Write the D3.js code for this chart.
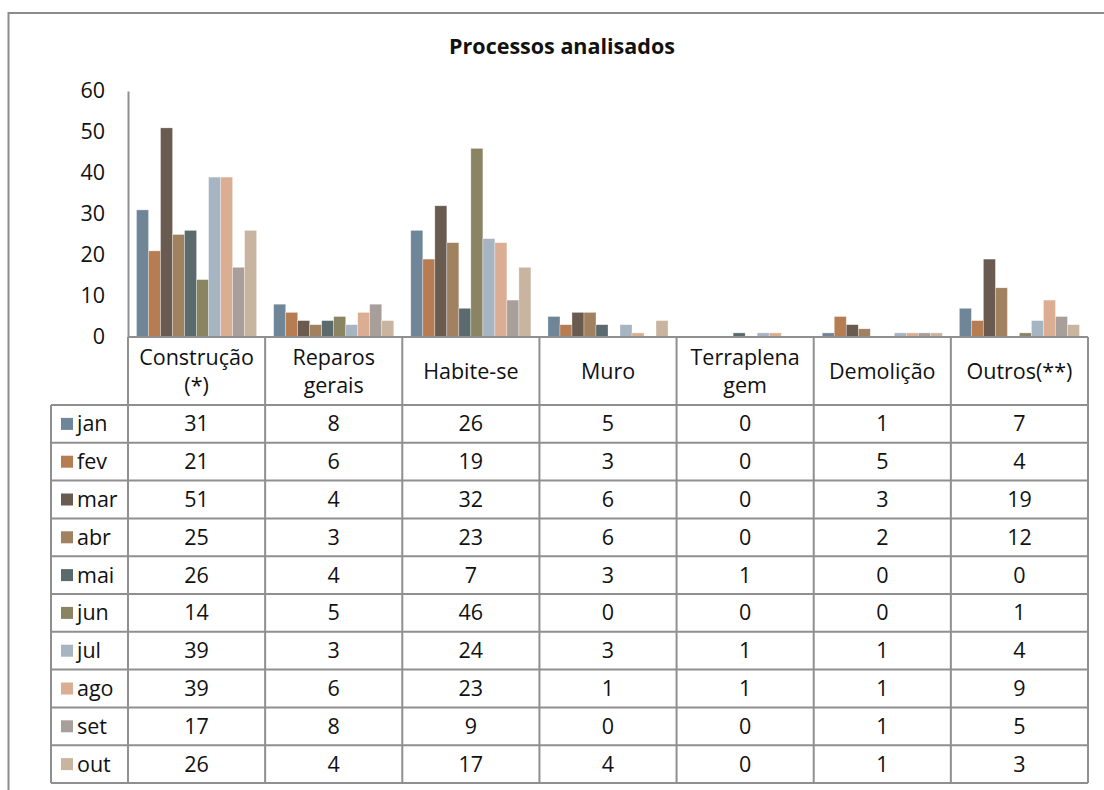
<!DOCTYPE html>
<html lang="pt">
	<head>
		<meta charset="utf-8">
		<title>Processos analisados</title>
		<script src="https://d3js.org/d3.v7.min.js"></script>
		<style type="text/css">
			body { margin: 0; background: #fff; }
			text { font-family: "Open Sans", "Noto Sans", sans-serif; fill: #111; }
		</style>
	</head>
	<body>
		<script type="text/javascript">
			// Categories and monthly series
			var categories = ["Construção (*)", "Reparos gerais", "Habite-se", "Muro", "Terraplena gem", "Demolição", "Outros(**)"];
			var catLines = [["Construção", "(*)"], ["Reparos", "gerais"], ["Habite-se"], ["Muro"], ["Terraplena", "gem"], ["Demolição"], ["Outros(**)"]];
			var months = ["jan", "fev", "mar", "abr", "mai", "jun", "jul", "ago", "set", "out"];
			var colors = ["#6f8598", "#b67c52", "#6a5b50", "#a08160", "#5a6a6d", "#8b8462", "#a7b4c2", "#dbae93", "#a89f9a", "#c9b49f"];

			var jan = [31, 8, 26, 5, 0, 1, 7];
			var fev = [21, 6, 19, 3, 0, 5, 4];
			var mar = [51, 4, 32, 6, 0, 3, 19];
			var abr = [25, 3, 23, 6, 0, 2, 12];
			var mai = [26, 4, 7, 3, 1, 0, 0];
			var jun = [14, 5, 46, 0, 0, 0, 1];
			var jul = [39, 3, 24, 3, 1, 1, 4];
			var ago = [39, 6, 23, 1, 1, 1, 9];
			var set = [17, 8, 9, 0, 0, 1, 5];
			var out = [26, 4, 17, 4, 0, 1, 3];
			var series = [jan, fev, mar, abr, mai, jun, jul, ago, set, out];

			var yTicks = [0, 10, 20, 30, 40, 50, 60];

			var w = 1104, h = 790;
			var plotLeft = 128, plotRight = 1088, plotTop = 91, base = 337;
			var legendLeft = 51, headerBottom = 405, rowH = 37.8;
			var lineColor = "#8f8f8f";
			var fs = "21.5px";

			var svg = d3.select("body").append("svg").attr("width", w).attr("height", h);

			// outer frame (extends beyond the picture)
			svg.append("rect")
				.attr("x", 8.5).attr("y", 13)
				.attr("width", 1200).attr("height", 900)
				.attr("fill", "none").attr("stroke", "#8c8c8c").attr("stroke-width", 2);

			svg.append("text")
				.attr("x", 562).attr("y", 54)
				.attr("text-anchor", "middle")
				.style("font-size", "21.5px").style("font-weight", "bold")
				.text("Processos analisados");

			// scales
			var x0 = d3.scaleBand().domain(categories).range([plotLeft, plotRight]).padding(0);
			var x1 = d3.scaleBand().domain(months).range([0, x0.bandwidth()]).paddingInner(0).paddingOuter(0.71);
			var y = d3.scaleLinear().domain([0, 60]).range([base, plotTop]);

			// bars
			var groups = svg.append("g").selectAll("g")
				.data(categories)
				.enter().append("g")
				.attr("transform", d => "translate(" + x0(d) + ",0)");

			groups.selectAll("rect")
				.data((c, ci) => months.map((m, mi) => ({ m: m, mi: mi, v: series[mi][ci] })))
				.enter().append("rect")
				.attr("x", d => x1(d.m))
				.attr("width", x1.bandwidth())
				.attr("y", d => y(d.v))
				.attr("height", d => base - y(d.v))
				.attr("fill", d => colors[d.mi])
				.attr("stroke", "rgba(255,255,255,0.5)")
				.attr("stroke-width", 0.6);

			// y axis
			var yAxis = svg.append("g")
				.attr("transform", "translate(" + plotLeft + ",0)")
				.call(d3.axisLeft(y).tickValues(yTicks).tickSize(0).tickPadding(23));
			yAxis.select(".domain").attr("stroke", lineColor).attr("stroke-width", 2);
			yAxis.selectAll("text")
				.style("font-size", fs)
				.style("font-family", "'Open Sans', sans-serif")
				.attr("fill", "#111");

			// data table
			var table = svg.append("g");
			var tableBottom = headerBottom + rowH * months.length;

			// horizontal lines
			table.append("line")
				.attr("x1", plotLeft).attr("x2", plotRight)
				.attr("y1", base).attr("y2", base);
			d3.range(months.length + 1).forEach(function (i) {
				table.append("line")
					.attr("x1", legendLeft).attr("x2", plotRight)
					.attr("y1", headerBottom + rowH * i).attr("y2", headerBottom + rowH * i);
			});
			// vertical lines
			categories.forEach(function (c) {
				table.append("line")
					.attr("x1", x0(c)).attr("x2", x0(c))
					.attr("y1", base).attr("y2", tableBottom);
			});
			table.append("line")
				.attr("x1", plotRight).attr("x2", plotRight)
				.attr("y1", base).attr("y2", tableBottom);
			table.append("line")
				.attr("x1", legendLeft).attr("x2", legendLeft)
				.attr("y1", headerBottom).attr("y2", tableBottom);
			table.selectAll("line").attr("stroke", lineColor).attr("stroke-width", 2);

			// header labels
			categories.forEach(function (c, ci) {
				var lines = catLines[ci];
				var cx = x0(c) + x0.bandwidth() / 2;
				var cy = (base + headerBottom) / 2;
				lines.forEach(function (t, li) {
					table.append("text")
						.attr("x", cx)
						.attr("y", cy + (li - (lines.length - 1) / 2) * 28)
						.attr("dy", "0.35em")
						.attr("text-anchor", "middle")
						.style("font-size", fs)
						.text(t);
				});
			});

			// rows
			months.forEach(function (m, mi) {
				var cy = headerBottom + rowH * mi + rowH / 2;
				table.append("rect")
					.attr("x", 61).attr("y", cy - 6)
					.attr("width", 12).attr("height", 12)
					.attr("fill", colors[mi]);
				table.append("text")
					.attr("x", 77).attr("y", cy)
					.attr("dy", "0.35em")
					.style("font-size", fs)
					.text(m);
				categories.forEach(function (c, ci) {
					table.append("text")
						.attr("x", x0(c) + x0.bandwidth() / 2)
						.attr("y", cy)
						.attr("dy", "0.35em")
						.attr("text-anchor", "middle")
						.style("font-size", fs)
						.text(series[mi][ci]);
				});
			});
		</script>
	</body>
</html>
